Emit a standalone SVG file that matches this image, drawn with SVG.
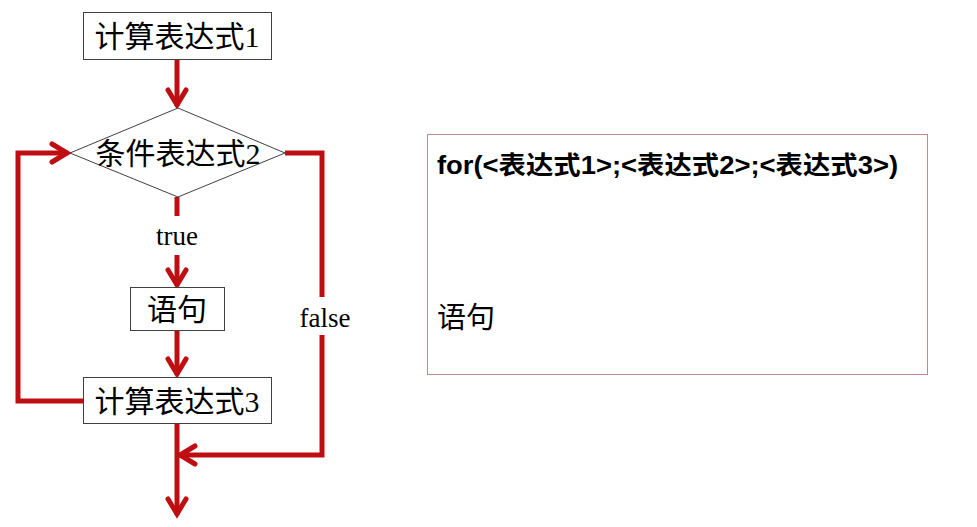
<svg xmlns="http://www.w3.org/2000/svg" width="977" height="527" viewBox="0 0 977 527">
<style>
.node{fill:#fff;stroke:#404040;stroke-width:1}
.t{font-family:"Liberation Serif","Noto Sans CJK SC",serif;font-size:30px;fill:#000;text-anchor:middle}
.lbl{font-family:"Liberation Serif",serif;font-size:27px;fill:#000;text-anchor:middle}
.c{fill:none;stroke:#BE0E12;stroke-width:5;stroke-linejoin:miter}
.code{font-family:"Liberation Sans","Noto Sans CJK SC",sans-serif;fill:#000}
</style>
<defs>
<marker id="ah" markerUnits="userSpaceOnUse" viewBox="-20 -12 24 24" refX="0" refY="0" markerWidth="24" markerHeight="24" orient="auto">
<path d="M-16,-9 L-1,0 L-16,9" fill="none" stroke="#BE0E12" stroke-width="5" stroke-linecap="round"/>
</marker>
</defs>
<g id="connectors">
<path class="c" d="M177,60 V106" marker-end="url(#ah)"/>
<path class="c" d="M177,197 V216"/>
<path class="c" d="M177,255 V286" marker-end="url(#ah)"/>
<path class="c" d="M177,330 V375" marker-end="url(#ah)"/>
<path class="c" d="M83,401 H18 V153 H68" marker-end="url(#ah)"/>
<path class="c" d="M285,153 H322 V297"/>
<path class="c" d="M322,335 V455 H179" marker-end="url(#ah)"/>
<path class="c" d="M177,423 V515" marker-end="url(#ah)"/>
<text class="lbl" x="177" y="245">true</text>
<text class="lbl" x="325" y="327">false</text>
</g>
<g id="n1">
<rect class="node" x="83.5" y="12.5" width="188" height="47"/>
<text class="t" x="177" y="47">计算表达式1</text>
</g>
<g id="n2">
<polygon class="node" points="178,108 285,153 178,197 70,153"/>
<text class="t" x="178" y="164">条件表达式2</text>
</g>
<g id="n3">
<rect class="node" x="130.5" y="287.5" width="94" height="43"/>
<text class="t" x="177" y="320">语句</text>
</g>
<g id="n4">
<rect class="node" x="83.5" y="377.5" width="188" height="46"/>
<text class="t" x="177" y="412">计算表达式3</text>
</g>
<g id="code">
<rect x="427.5" y="134.5" width="500" height="240" fill="#fff" stroke="#C08A8A" stroke-width="1"/>
<text class="code" x="437" y="174" font-size="25" font-weight="bold" textLength="461" lengthAdjust="spacingAndGlyphs">for(&lt;表达式1&gt;;&lt;表达式2&gt;;&lt;表达式3&gt;)</text>
<text class="code" x="437" y="328" font-size="29">语句</text>
</g>
</svg>
